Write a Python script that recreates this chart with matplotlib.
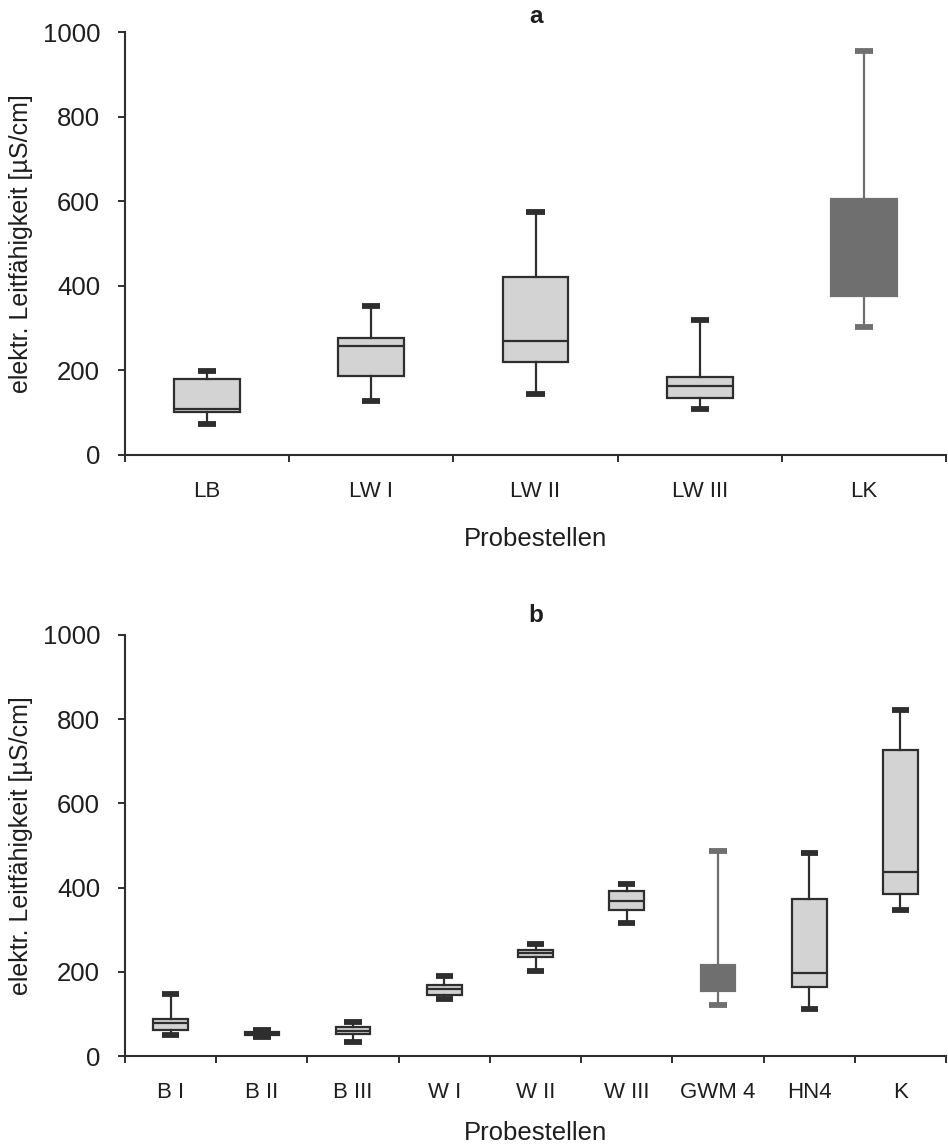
import matplotlib
matplotlib.use("Agg")
import matplotlib.pyplot as plt
import numpy as np

plt.rcParams['font.family'] = ['Liberation Sans', 'DejaVu Sans']

# Panel a: Landsee sampling sites (whisker low, Q1, median, Q3, whisker high)
sites_a = ['LB', 'LW I', 'LW II', 'LW III', 'LK']
low_a = [73, 128, 144, 109, 303]
q1_a = [102, 187, 220, 135, 376]
med_a = [108, 258, 270, 163, 385]
q3_a = [180, 277, 421, 184, 605]
high_a = [198, 352, 575, 319, 955]
dark_a = ['LK']

# Panel b
sites_b = ['B I', 'B II', 'B III', 'W I', 'W II', 'W III', 'GWM 4', 'HN4', 'K']
low_b = [50, 45, 34, 135, 201, 317, 121, 111, 347]
q1_b = [61, 50, 52, 146, 236, 347, 154, 165, 386]
med_b = [78, 54, 59, 160, 244, 369, 160, 198, 438]
q3_b = [89, 58, 69, 168, 253, 392, 217, 373, 728]
high_b = [148, 63, 80, 189, 267, 408, 487, 482, 823]
dark_b = ['GWM 4']

LIGHT = '#d3d3d3'
DARK = '#6f6f6f'
EDGE = '#2e2e2e'
TEXT = '#1e1e1e'


def draw_panel(ax, sites, low, q1, med, q3, high, dark, title, box_w, cap_w, title_pad, xlabel_pad):
    stats = []
    for i in range(len(sites)):
        stats.append({'label': sites[i], 'whislo': low[i], 'q1': q1[i], 'med': med[i],
                      'q3': q3[i], 'whishi': high[i], 'fliers': []})
    pos = np.arange(1, len(sites) + 1)
    bp = ax.bxp(stats, positions=pos, widths=box_w, patch_artist=True,
                showfliers=False, capwidths=cap_w)

    for i, name in enumerate(sites):
        col = DARK if name in dark else EDGE
        fill = DARK if name in dark else LIGHT
        bp['boxes'][i].set(facecolor=fill, edgecolor=col, linewidth=1.6)
        bp['medians'][i].set(color=col, linewidth=1.6)
        for j in (2 * i, 2 * i + 1):
            bp['whiskers'][j].set(color=col, linewidth=1.6)
            bp['caps'][j].set(color=col, linewidth=4.2, solid_capstyle='butt')

    ax.set_xlim(0.5, len(sites) + 0.5)
    ax.set_ylim(0, 1000)
    ax.set_yticks(np.arange(0, 1001, 200))

    # boundary ticks, labels centred between them
    ax.set_xticks(np.arange(0.5, len(sites) + 1, 1))
    ax.set_xticklabels([])
    ax.set_xticks(pos, minor=True)
    ax.set_xticklabels(sites, minor=True, fontsize=16, color=TEXT)
    ax.tick_params(axis='x', which='minor', length=0, pad=19)
    ax.tick_params(axis='x', which='major', length=5, width=1.4, color=EDGE, direction='out')
    ax.tick_params(axis='y', length=5, width=1.4, color=EDGE, direction='out',
                   labelsize=18.5, pad=13, labelcolor=TEXT)

    for s in ('top', 'right'):
        ax.spines[s].set_visible(False)
    for s in ('left', 'bottom'):
        ax.spines[s].set_linewidth(1.5)
        ax.spines[s].set_color(EDGE)

    ax.set_ylabel('elektr. Leitfähigkeit [µS/cm]', fontsize=18, color=TEXT, labelpad=7)
    ax.set_xlabel('Probestellen', fontsize=18.5, color=TEXT, labelpad=xlabel_pad)
    ax.set_title(title, fontsize=17.5, fontweight='bold', color=TEXT, pad=title_pad)


fig = plt.figure(figsize=(9.48, 11.46), dpi=100)
ax_a = fig.add_axes([0.1319, 0.603, 0.866, 0.369])
ax_b = fig.add_axes([0.1319, 0.0785, 0.866, 0.3674])

draw_panel(ax_a, sites_a, low_a, q1_a, med_a, q3_a, high_a, dark_a, 'a', 0.40, 0.11, 6.5, 18)
draw_panel(ax_b, sites_b, low_b, q1_b, med_b, q3_b, high_b, dark_b, 'b', 0.38, 0.19, 9, 13)

fig.savefig('out.png', dpi=100, facecolor='white')
